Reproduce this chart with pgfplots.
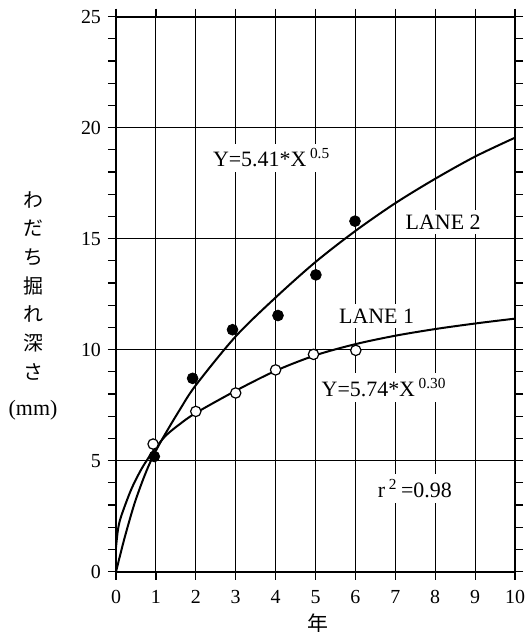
\documentclass[border=0pt]{standalone}
\usepackage{fontspec}
\setmainfont{Liberation Serif}
\newfontfamily\cjk{Noto Sans CJK JP}
\usepackage{pgfplots}
\pgfplotsset{compat=1.18}
\usetikzlibrary{calc}
\begin{document}
\begin{tikzpicture}
\begin{axis}[
  scale only axis, width=199.5bp, height=277.5bp,
  xmin=0, xmax=10, ymin=0, ymax=25,
  xtick={0,1,...,10}, ytick={0,5,...,25}, minor ytick={1,...,24},
  xmajorgrids, ymajorgrids,
  grid style={black, line width=0.5bp},
  axis line style={line width=1bp},
  tick align=outside, tick style={black, line width=0.6bp},
  major tick length=4bp, minor tick length=4bp,
  ticklabel style={font=\fontsize{10}{12}\selectfont},
  xticklabel style={yshift=-1.8bp},
  /pgf/number format/assume math mode=true,
  clip=false,
]
% fitted curves
\addplot[smooth, line width=1bp] coordinates {
 (0,0) (0.21,1.49) (0.46,3.05) (0.71,4.3) (0.92,5.17) (1.2,6.1) (1.6,7.3) (2,8.4) (3,10.6)
 (4,12.35) (5,13.95) (6,15.35) (7,16.6) (8,17.7) (9,18.7) (10,19.55)};
\addplot[smooth, line width=1bp] coordinates {
 (0,1.1) (0.05,1.9) (0.13,2.5) (0.38,3.7) (0.63,4.6) (0.84,5.2) (1.0,5.6) (1.26,6.15)
 (1.6,6.65) (2,7.15) (3,8.15) (4,9.05) (5,9.75) (6,10.25) (7,10.63) (8,10.93) (9,11.18) (10,11.4)};
% LANE 2 data
\addplot[only marks, mark=*, mark size=2.7bp, mark options={fill=black, draw=black}] coordinates {
 (0.96,5.19) (1.92,8.71) (2.92,10.9) (4.06,11.54) (5.01,13.37) (5.99,15.79)};
% LANE 1 data
\addplot[only marks, mark=*, mark size=2.6bp, mark options={fill=white, draw=black, line width=0.6bp}] coordinates {
 (0.93,5.75) (2.0,7.22) (3.0,8.05) (4.0,9.09) (4.95,9.79) (6.01,9.97)};
\tikzset{lbl/.style={fill=white, inner sep=2.5bp, anchor=base, font=\fontsize{11}{13}\selectfont}}
\node[lbl] at (axis cs:3.9,18.24) {Y=5.41*X\,\textsuperscript{0.5}};
\node[lbl] at (axis cs:8.2,15.43) {LANE 2};
\node[lbl] at (axis cs:6.53,11.2) {LANE 1};
\node[lbl] at (axis cs:6.72,7.9) {Y=5.74*X\,\textsuperscript{0.30}};
\node[lbl] at (axis cs:7.49,3.35) {r\,\textsuperscript{2}\,=0.98};
\end{axis}
\foreach \c [count=\i] in {わ,だ,ち,掘,れ,深,さ}
  \node[font=\cjk\fontsize{10}{12}\selectfont, inner sep=0pt] at ($(current axis.north west)+(-41.5bp,{-91.65bp-(\i-1)*14.3bp})$) {\c};
\node[font=\fontsize{11}{13}\selectfont, inner sep=0pt] at ($(current axis.north west)+(-41.5bp,-196.65bp)$) {(mm)};
\node[font=\cjk\fontsize{10.5}{12}\selectfont, inner sep=0pt] at ($(current axis.south west)+(101bp,-25.7bp)$) {年};
\pgfresetboundingbox
\path[use as bounding box] ($(current axis.south west)+(-58bp,-30.15bp)$) rectangle ($(current axis.north east)+(7.5bp,8.35bp)$);
\end{tikzpicture}
\end{document}
